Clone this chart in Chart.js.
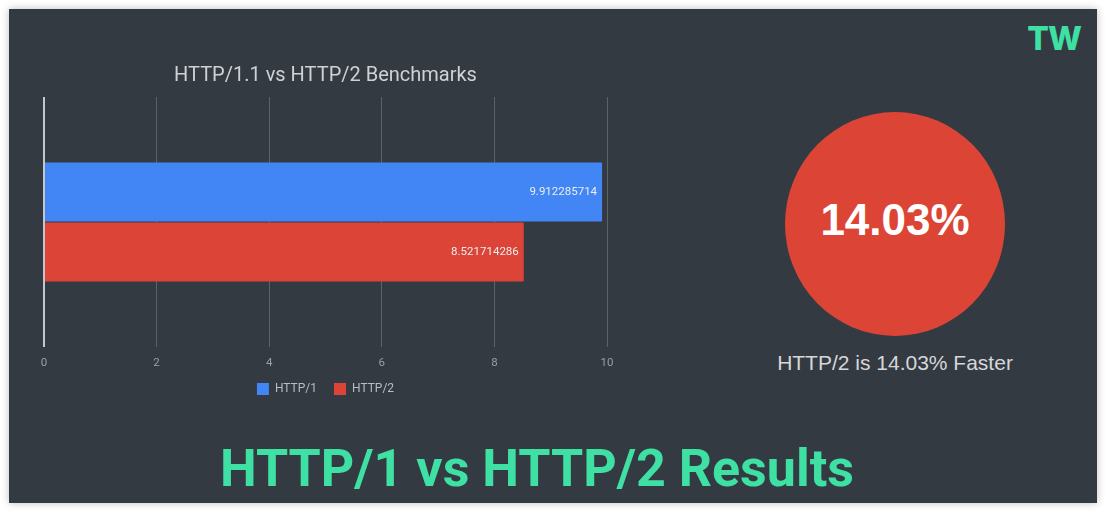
<!DOCTYPE html>
<html>
<head>
<meta charset="utf-8">
<script src="https://cdn.jsdelivr.net/npm/chart.js@4.4.1/dist/chart.umd.min.js"></script>
<style>
  html, body { margin: 0; padding: 0; background: #ffffff; }
  body { width: 1105px; height: 512px; position: relative; overflow: hidden; }
  #panel {
    position: absolute; left: 9px; top: 9px; width: 1088px; height: 494px;
    background: #343a42; box-shadow: 0 0 8px rgba(0,0,0,0.25);
  }
  #chartBox { position: absolute; left: 20px; top: 55px; width: 640px; height: 350px; }
  #logo {
    position: absolute; left: 1004px; top: 23px; width: 100px; text-align: center;
    font: 800 32px/32px Inter, sans-serif; color: #3ee0a4; letter-spacing: -1px;
  }
  #circle {
    position: absolute; left: 785px; top: 112px; width: 220px; height: 224px;
    border-radius: 50%; background: #dc4536;
    display: flex; align-items: center; justify-content: center;
  }
  #circle span {
    font: bold 44px "Liberation Sans", Arial, sans-serif; color: #ffffff; margin-bottom: 8px;
  }
  #subtitle {
    position: absolute; left: 745px; top: 351px; width: 300px; text-align: center;
    font: 21px/24px "Liberation Sans", Arial, sans-serif; color: #d6d7d9;
  }
  #headline {
    position: absolute; left: 0; top: 439px; width: 1074px; text-align: center;
    font: bold 52px/60px Roboto, sans-serif; color: #3ee0a4;
  }
</style>
</head>
<body>
<div id="panel"></div>
<div id="chartBox"><canvas id="benchChart"></canvas></div>
<div id="logo">TW</div>
<div id="circle"><span id="pct"></span></div>
<div id="subtitle"></div>
<div id="headline">HTTP/1 vs HTTP/2 Results</div>

<script>
// Datos del gráfico
const categorias = ['Benchmark'];
const seriesNames = ['HTTP/1', 'HTTP/2'];
const http1Values = [9.912285714];
const http2Values = [8.521714286];
const xTicks = [0, 2, 4, 6, 8, 10];

// Porcentaje de mejora calculado desde los datos
const mejora = ((http1Values[0] - http2Values[0]) / http1Values[0] * 100).toFixed(2);
document.getElementById('pct').textContent = mejora + '%';
document.getElementById('subtitle').textContent = 'HTTP/2 is ' + mejora + '% Faster';

// Etiquetas de valor dentro del final de cada barra
const barValueLabels = {
  id: 'barValueLabels',
  afterDatasetsDraw(chart) {
    const ctx = chart.ctx;
    ctx.save();
    ctx.font = '11.5px Roboto';
    ctx.fillStyle = '#eceef0';
    ctx.textAlign = 'right';
    ctx.textBaseline = 'middle';
    chart.data.datasets.forEach((ds, i) => {
      chart.getDatasetMeta(i).data.forEach((bar, j) => {
        ctx.fillText(String(ds.data[j]), bar.x - 5, bar.y);
      });
    });
    ctx.restore();
  }
};

const ctx = document.getElementById('benchChart').getContext('2d');
new Chart(ctx, {
  type: 'bar',
  data: {
    labels: categorias,
    datasets: [{
      label: seriesNames[0],
      data: http1Values,
      backgroundColor: '#4285f4',
      borderRadius: 1,
      categoryPercentage: 0.48,
      barPercentage: 0.98
    }, {
      label: seriesNames[1],
      data: http2Values,
      backgroundColor: '#db4437',
      borderRadius: 1,
      categoryPercentage: 0.48,
      barPercentage: 0.98
    }]
  },
  options: {
    indexAxis: 'y',
    responsive: true,
    maintainAspectRatio: false,
    animation: false,
    layout: { padding: { left: 24, right: 53, top: 0, bottom: 0 } },
    plugins: {
      title: {
        display: true,
        text: 'HTTP/1.1 vs HTTP/2 Benchmarks',
        color: '#cfd1d4',
        font: { family: 'Roboto', size: 20, weight: 'normal' },
        padding: { top: 9, bottom: 9 }
      },
      legend: {
        position: 'bottom',
        labels: {
          color: '#b9bcc0',
          font: { family: 'Roboto', size: 12 },
          boxWidth: 12,
          boxHeight: 12,
          padding: 17
        }
      },
      tooltip: { enabled: false }
    },
    scales: {
      x: {
        min: 0,
        max: 10,
        afterBuildTicks: axis => { axis.ticks = xTicks.map(v => ({ value: v })); },
        afterFit: axis => { axis.height = 19; },
        border: { display: false },
        grid: {
          drawTicks: false,
          color: c => (c.tick && c.tick.value === 0) ? '#c4c6c9' : '#5d6269',
          lineWidth: c => (c.tick && c.tick.value === 0) ? 2 : 1
        },
        ticks: {
          color: '#9a9ea5',
          font: { family: 'Roboto', size: 11.5 },
          padding: 9
        }
      },
      y: { display: false }
    }
  },
  plugins: [barValueLabels]
});
</script>
</body>
</html>
